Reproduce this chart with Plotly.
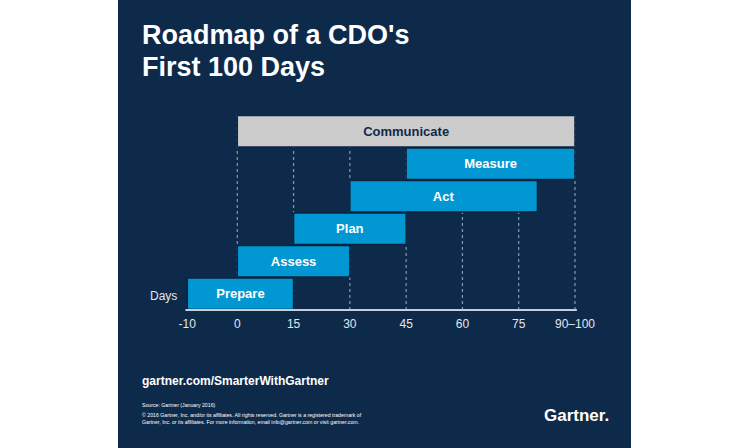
import plotly.graph_objects as go

# ---- data ----
phases = ["Prepare", "Assess", "Plan", "Act", "Measure", "Communicate"]
start_day = [-10, 0, 15, 30, 45, 0]
end_day = [15, 30, 45, 80, 90, 90]
tick_days = [-10, 0, 15, 30, 45, 60, 75, 90]
tick_labels = ["-10", "0", "15", "30", "45", "60", "75", "90–100"]
grid_days = [0, 15, 30, 45, 60, 75, 90]

# ---- style ----
W, H = 750, 448
NAVY = "#0e2a4b"
BLUE = "#0097d3"
GRAY = "#cccccc"
FONT = "Liberation Sans, Arial, Helvetica, sans-serif"
PRE_STRETCH = 4 / 3  # pre-start period is drawn wider in the original

ML, MR, MT, MB = 118, 119, 115, 138
PX_PER_DAY = 3.752
X0_PX = 237.3  # pixel of day 0


def pos(d):
    return d * PRE_STRETCH if d < 0 else d


def px_x(px):
    return (px - ML) / (W - ML - MR)


def px_y(py):
    return (H - MB - py) / (H - MT - MB)


xmin = (ML - X0_PX) / PX_PER_DAY
xmax = (W - MR - X0_PX) / PX_PER_DAY

bar_base = [pos(s) for s in start_day]
bar_len = [pos(e) - pos(s) for s, e in zip(start_day, end_day)]
bar_colors = [GRAY if p == "Communicate" else BLUE for p in phases]
text_colors = [NAVY if p == "Communicate" else "white" for p in phases]

fig = go.Figure()
fig.add_trace(go.Bar(
    y=phases, x=bar_len, base=bar_base, orientation="h",
    marker=dict(color=bar_colors, line=dict(color="#0b2440", width=1.5)),
    text=phases, textposition="inside", insidetextanchor="middle",
    constraintext="none",
    textfont=dict(family=FONT, size=13, color=text_colors, weight="bold"),
    hoverinfo="skip", showlegend=False,
))

shapes = [
    dict(type="rect", xref="paper", yref="paper", x0=px_x(118), x1=px_x(631),
         y0=px_y(H), y1=px_y(0), fillcolor=NAVY, line=dict(width=0), layer="below"),
]
for g in grid_days:
    shapes.append(dict(type="line", xref="x", yref="paper", x0=g, x1=g, y0=0, y1=1,
                       line=dict(color="rgba(170,180,195,0.8)", width=1.2, dash="dot"),
                       layer="below"))
shapes.append(dict(type="line", xref="x", yref="paper",
                   x0=pos(tick_days[0]) - 0.5, x1=tick_days[-1] + 0.5, y0=0, y1=0,
                   line=dict(color="#c9ced6", width=2), layer="above"))

annotations = [
    dict(text="Roadmap of a CDO's", x=px_x(140), y=px_y(35), xref="paper", yref="paper",
         xanchor="left", yanchor="middle", showarrow=False,
         font=dict(family=FONT, size=27, color="white", weight="bold")),
    dict(text="First 100 Days", x=px_x(140), y=px_y(66.5), xref="paper", yref="paper",
         xanchor="left", yanchor="middle", showarrow=False,
         font=dict(family=FONT, size=27, color="white", weight="bold")),
    dict(text="Days", x=px_x(148), y=px_y(295.5), xref="paper", yref="paper",
         xanchor="left", yanchor="middle", showarrow=False,
         font=dict(family=FONT, size=12, color="#e4e6ea")),
    dict(text="gartner.com/SmarterWithGartner", x=px_x(140), y=px_y(381), xref="paper",
         yref="paper", xanchor="left", yanchor="middle", showarrow=False,
         font=dict(family=FONT, size=12, color="white", weight="bold")),
    dict(text="Source: Gartner (January 2016)", x=px_x(140), y=px_y(404.5), xref="paper",
         yref="paper", xanchor="left", yanchor="middle", showarrow=False,
         font=dict(family=FONT, size=5.2, color="white")),
    dict(text="© 2016 Gartner, Inc. and/or its affiliates. All rights reserved. Gartner is a registered trademark of"
              "<br>Gartner, Inc. or its affiliates. For more information, email info@gartner.com or visit gartner.com.",
         x=px_x(140), y=px_y(418.3), xref="paper", yref="paper", xanchor="left", yanchor="middle",
         align="left", showarrow=False,
         font=dict(family=FONT, size=5.2, color="white")),
    dict(text="Gartner.", x=px_x(611), y=px_y(416), xref="paper", yref="paper",
         xanchor="right", yanchor="middle", showarrow=False,
         font=dict(family=FONT, size=17, color="white", weight="bold")),
]

fig.update_layout(
    width=W, height=H, margin=dict(l=ML, r=MR, t=MT, b=MB, pad=0),
    paper_bgcolor="white", plot_bgcolor=NAVY,
    bargap=0.03, shapes=shapes, annotations=annotations,
    xaxis=dict(range=[xmin, xmax], tickvals=[pos(t) for t in tick_days], ticktext=tick_labels,
               showgrid=False, zeroline=False, showline=False, ticks="",
               ticklabelstandoff=5,
               tickfont=dict(family=FONT, size=12, color="#e4e6ea"), fixedrange=True),
    yaxis=dict(categoryorder="array", categoryarray=phases, range=[-0.5, 5.5],
               visible=False, fixedrange=True),
)

fig.write_html("out.html", config={"displayModeBar": False},
               post_script="document.body.style.margin='0';")
